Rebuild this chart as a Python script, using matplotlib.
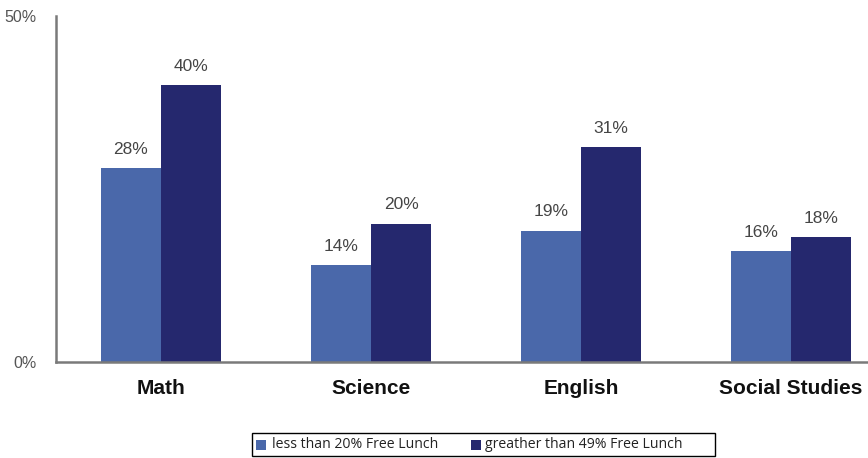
import matplotlib
matplotlib.use("Agg")
import matplotlib.pyplot as plt
from matplotlib.patches import Rectangle
import numpy as np

categories = ["Math", "Science", "English", "Social Studies"]
low_lunch = [28, 14, 19, 16]
high_lunch = [40, 20, 31, 18]
series_names = ["less than 20% Free Lunch", "greather than 49% Free Lunch"]
ytick_values = [0, 50]
ytick_labels = ["0%", "50%"]

light_blue = "#4A68AA"
dark_blue = "#25286E"

plt.rcParams["font.family"] = ["Liberation Sans", "DejaVu Sans"]

W, H = 868, 458
fig = plt.figure(figsize=(W / 100, H / 100), dpi=100)
ax = fig.add_axes([56 / W, 1 - 362 / H, 1 - 56 / W, (362 - 16) / H])

x = np.arange(len(categories))
w = 0.286
b1 = ax.bar(x - w / 2, low_lunch, w, color=light_blue, label=series_names[0])
b2 = ax.bar(x + w / 2, high_lunch, w, color=dark_blue, label=series_names[1])

for bars, vals in ((b1, low_lunch), (b2, high_lunch)):
    for bar, v in zip(bars, vals):
        ax.annotate(f"{v}%", (bar.get_x() + bar.get_width() / 2, v),
                    xytext=(0, 8), textcoords="offset points",
                    ha="center", va="bottom", fontsize=12.5, color="#454545")

ax.set_ylim(0, 50)
ax.set_xlim(-0.5, 3.5 - 28 / 210)
ax.set_yticks(ytick_values)
ax.set_yticklabels(ytick_labels, fontsize=11.5, color="#555555")
ax.tick_params(axis="y", length=0, pad=14)
ax.set_xticks(x)
ax.set_xticklabels(categories, fontsize=15, fontweight="bold", color="#111111")
ax.tick_params(axis="x", length=0, pad=12)

for s in ("top", "right"):
    ax.spines[s].set_visible(False)
for s in ("left", "bottom"):
    ax.spines[s].set_color("#7a7a7a")
    ax.spines[s].set_linewidth(1.8)

# Legend box drawn in figure pixel coordinates
def px(xp, yp):
    return xp / W, 1 - yp / H

lx0, ly0 = px(252, 456)
fig.patches.append(Rectangle((lx0, ly0), (715 - 252) / W, (456 - 433) / H,
                             transform=fig.transFigure, facecolor="white",
                             edgecolor="black", linewidth=1.0))
legend_font = {"family": ["Open Sans", "DejaVu Sans"], "size": 10.1}
for (sq_x, txt_x), color, name in zip(((256, 272), (471, 485)),
                                      (light_blue, dark_blue), series_names):
    sx, sy = px(sq_x, 450)
    fig.patches.append(Rectangle((sx, sy), 10 / W, 10 / H,
                                 transform=fig.transFigure,
                                 facecolor=color, edgecolor="none"))
    tx, ty = px(txt_x, 444.5)
    fig.text(tx, ty, name, ha="left", va="center", color="#222222",
             fontdict=legend_font)

fig.savefig("out.png", dpi=100)
